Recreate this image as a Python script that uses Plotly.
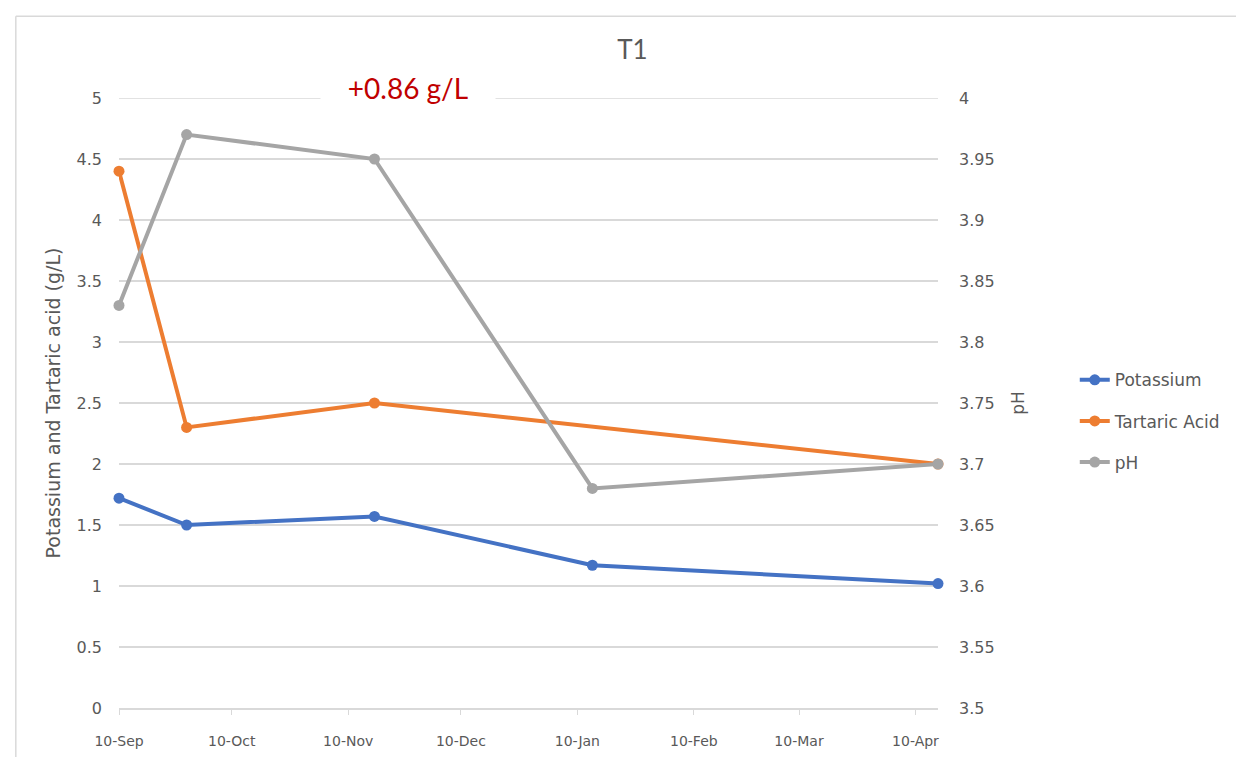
import plotly.graph_objects as go

dates = ["2018-09-10", "2018-09-28", "2018-11-17", "2019-01-14", "2019-04-16"]
potassium = [1.72, 1.50, 1.57, 1.17, 1.02]
tartaric = [4.40, 2.30, 2.50, None, 2.00]
ph = [3.83, 3.97, 3.95, 3.68, 3.70]

tick_dates = ["2018-09-10", "2018-10-10", "2018-11-10", "2018-12-10",
              "2019-01-10", "2019-02-10", "2019-03-10", "2019-04-10"]
tick_text = ["10-Sep", "10-Oct", "10-Nov", "10-Dec", "10-Jan", "10-Feb", "10-Mar", "10-Apr"]

FONT = "DejaVu Sans"
TFONT = "Lato"
GREY = "#595959"
GRID = "#d9d9d9"

fig = go.Figure()
fig.add_trace(go.Scatter(x=dates, y=potassium, name="Potassium", mode="lines+markers",
                         line=dict(color="#4472C4", width=4), marker=dict(size=11, color="#4472C4"),
                         cliponaxis=False, legendgroup="a"))
fig.add_trace(go.Scatter(x=dates, y=tartaric, name="Tartaric Acid", mode="lines+markers",
                         line=dict(color="#ED7D31", width=4), marker=dict(size=11, color="#ED7D31"),
                         connectgaps=True, cliponaxis=False, legendgroup="b"))
fig.add_trace(go.Scatter(x=dates, y=ph, name="pH", mode="lines+markers", yaxis="y2",
                         line=dict(color="#A5A5A5", width=4), marker=dict(size=11, color="#A5A5A5"),
                         cliponaxis=False, legendgroup="c"))

fig.update_layout(
    width=1244, height=757,
    margin=dict(l=111, r=314, t=90, b=57),
    paper_bgcolor="white", plot_bgcolor="white",
    font=dict(family=FONT, color=GREY, size=15),
    title=dict(text="T1", x=0.502, xref="container", y=0.945, yref="container",
               xanchor="center", yanchor="middle", font=dict(size=26, color=GREY, family=TFONT)),
    xaxis=dict(type="date", range=["2018-09-10", "2019-04-16"], tickvals=tick_dates, ticktext=tick_text,
               showgrid=False, showline=True, linecolor=GRID, linewidth=1.5,
               ticks="outside", ticklen=5, tickcolor=GRID, ticklabelstandoff=14,
               tickfont=dict(size=14, color=GREY), zeroline=False),
    yaxis=dict(range=[0, 5], dtick=0.5, showgrid=True, gridcolor=GRID, gridwidth=1.5,
               zeroline=False, showline=False, ticks="", ticklabelstandoff=16,
               tickfont=dict(size=16, color=GREY),
               title=dict(text="Potassium and Tartaric acid (g/L)", standoff=10,
                          font=dict(size=19, color=GREY))),
    yaxis2=dict(range=[3.5, 4.0], dtick=0.05, overlaying="y", side="right", showgrid=False,
                zeroline=False, showline=False, ticks="", ticklabelstandoff=20,
                tickfont=dict(size=16, color=GREY),
                title=dict(text="pH", standoff=18, font=dict(size=17, color=GREY))),
    legend=dict(x=1.167, xanchor="left", y=0.47, yanchor="middle", tracegroupgap=16,
                font=dict(size=17, color=GREY), bgcolor="rgba(0,0,0,0)"),
    showlegend=True,
)

# top gridline at the edge of the range
fig.add_shape(type="line", xref="paper", yref="y", x0=0, x1=1, y0=5, y1=5,
              line=dict(color=GRID, width=1.5), layer="below")

fig.add_annotation(text="+0.86 g/L", xref="paper", yref="paper", x=0.3527, y=1.016,
                   xanchor="center", yanchor="middle", showarrow=False,
                   font=dict(size=28, color="#C00000", family=TFONT),
                   bgcolor="white", width=172, borderpad=1)

# chart area border (top and left edges)
fig.add_shape(type="line", xref="paper", yref="paper", x0=-0.126, x1=1.4, y0=1.134, y1=1.134,
              line=dict(color=GRID, width=1.5))
fig.add_shape(type="line", xref="paper", yref="paper", x0=-0.126, x1=-0.126, y0=1.134, y1=-0.12,
              line=dict(color=GRID, width=1.5))

fig.write_html("out.html")
